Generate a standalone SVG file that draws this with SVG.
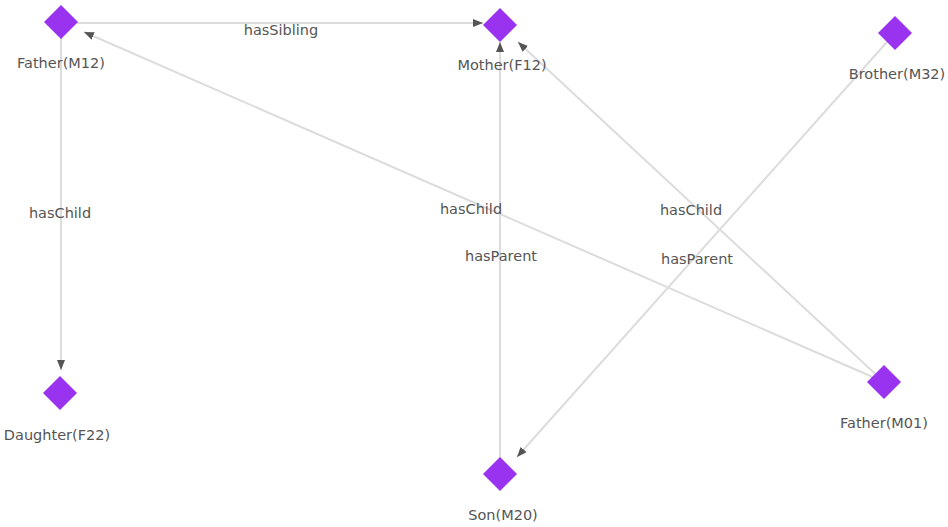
<svg xmlns="http://www.w3.org/2000/svg" width="948" height="527" viewBox="0 0 948 527">
<defs>
<style>
.edge{stroke:#dcdcdc;stroke-width:2;fill:none}
.node{fill:#9933f0}
.lbl{font-family:"DejaVu Sans",Verdana,sans-serif;font-size:14.5px;fill:#555;text-anchor:middle}
</style>
<marker id="arr" markerUnits="userSpaceOnUse" markerWidth="12" markerHeight="10" refX="10" refY="4" orient="auto">
<path d="M0,0 L10,4 L0,8 Z" fill="#555"/>
</marker>
</defs>
<rect width="948" height="527" fill="#fff"/>
<g id="connectors">
<line class="edge" x1="61" y1="23" x2="483" y2="23" marker-end="url(#arr)"/>
<line class="edge" x1="61" y1="22" x2="61" y2="370" marker-end="url(#arr)"/>
<line class="edge" x1="884" y1="382" x2="84" y2="32" marker-end="url(#arr)"/>
<line class="edge" x1="500" y1="474" x2="500" y2="42" marker-end="url(#arr)"/>
<line class="edge" x1="884" y1="382" x2="518" y2="42" marker-end="url(#arr)"/>
<line class="edge" x1="895" y1="33" x2="517" y2="457" marker-end="url(#arr)"/>
<text class="lbl" x="281" y="35">hasSibling</text>
<text class="lbl" x="60" y="218">hasChild</text>
<text class="lbl" x="471" y="214">hasChild</text>
<text class="lbl" x="501" y="261">hasParent</text>
<text class="lbl" x="691" y="215">hasChild</text>
<text class="lbl" x="697" y="264">hasParent</text>
</g>
<g id="father-m12"><path class="node" d="M61,5 L78,22 L61,39 L44,22 Z"/><text class="lbl" x="61" y="68">Father(M12)</text></g>
<g id="mother-f12"><path class="node" d="M500,8 L517,25 L500,42 L483,25 Z"/><text class="lbl" x="502" y="70">Mother(F12)</text></g>
<g id="brother-m32"><path class="node" d="M895,16 L912,33 L895,50 L878,33 Z"/><text class="lbl" x="897" y="79">Brother(M32)</text></g>
<g id="daughter-f22"><path class="node" d="M60,376 L77,393 L60,410 L43,393 Z"/><text class="lbl" x="57" y="440">Daughter(F22)</text></g>
<g id="father-m01"><path class="node" d="M884,365 L901,382 L884,399 L867,382 Z"/><text class="lbl" x="884" y="428">Father(M01)</text></g>
<g id="son-m20"><path class="node" d="M500,457 L517,474 L500,491 L483,474 Z"/><text class="lbl" x="503" y="520">Son(M20)</text></g>
</svg>
